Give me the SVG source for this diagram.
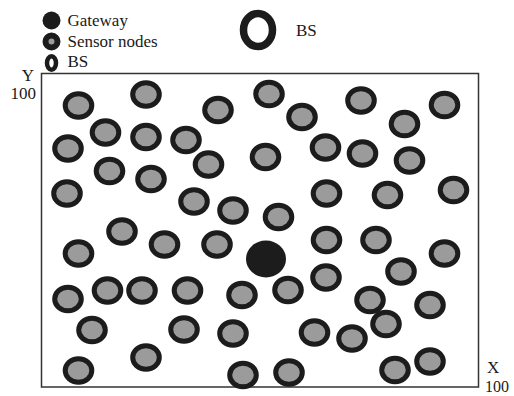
<svg xmlns="http://www.w3.org/2000/svg" width="514" height="396" viewBox="0 0 514 396">
<style>
.s{fill:#9b9b9b;stroke:#1c1c1c;stroke-width:5}
.t{font-family:"Liberation Serif","Times New Roman",serif;font-size:17px;fill:#1a1a1a}
.g{fill:#1c1c1c}
</style>
<defs>
<ellipse id="n" class="s" rx="13.3" ry="11.8"/>
</defs>
<rect width="514" height="396" fill="#fff"/>
<g id="legend">
<circle cx="51.5" cy="20.5" r="9" class="g"/>
<text x="67.5" y="25.5" class="t">Gateway</text>
<circle cx="51.5" cy="41.5" r="6" fill="#9b9b9b" stroke="#1c1c1c" stroke-width="6"/>
<text x="67.5" y="46.5" class="t">Sensor nodes</text>
<ellipse cx="51.5" cy="63" rx="4.5" ry="6.8" fill="#fff" stroke="#1c1c1c" stroke-width="4.5"/>
<text x="67.5" y="66.5" class="t">BS</text>
</g>
<g id="bs">
<ellipse cx="258" cy="30" rx="14.5" ry="16.5" fill="#fff" stroke="#1c1c1c" stroke-width="7.5"/>
<text x="296" y="36" class="t">BS</text>
</g>
<g id="field">
<rect x="41.5" y="73.5" width="437" height="313.5" fill="none" stroke="#333" stroke-width="1.5"/>
<text x="21.7" y="80.5" class="t">Y</text>
<text x="36" y="98.5" class="t" text-anchor="end">100</text>
<text x="487" y="373" class="t">X</text>
<text x="485" y="392" class="t" font-size="16px" style="font-size:16px">100</text>
</g>
<g id="connectors"/>
<g id="gateway"><ellipse cx="266" cy="259" rx="20" ry="18.5" class="g"/></g>
<g id="sensors">
<g id="s1"><use href="#n" x="78.5" y="105.5"/></g>
<g id="s2"><use href="#n" x="146" y="94.5"/></g>
<g id="s3"><use href="#n" x="218" y="110"/></g>
<g id="s4"><use href="#n" x="269" y="94"/></g>
<g id="s5"><use href="#n" x="302" y="117"/></g>
<g id="s6"><use href="#n" x="361" y="100.5"/></g>
<g id="s7"><use href="#n" x="404.5" y="124"/></g>
<g id="s8"><use href="#n" x="444.5" y="105"/></g>
<g id="s9"><use href="#n" x="105.5" y="132.5"/></g>
<g id="s10"><use href="#n" x="146" y="137"/></g>
<g id="s11"><use href="#n" x="186" y="140"/></g>
<g id="s12"><use href="#n" x="68" y="148.5"/></g>
<g id="s13"><use href="#n" x="208.5" y="164.5"/></g>
<g id="s14"><use href="#n" x="265.5" y="157"/></g>
<g id="s15"><use href="#n" x="325.5" y="147.5"/></g>
<g id="s16"><use href="#n" x="362.5" y="153.5"/></g>
<g id="s17"><use href="#n" x="409.5" y="160.5"/></g>
<g id="s18"><use href="#n" x="109.5" y="171"/></g>
<g id="s19"><use href="#n" x="151" y="179"/></g>
<g id="s20"><use href="#n" x="67" y="193.5"/></g>
<g id="s21"><use href="#n" x="194" y="201.5"/></g>
<g id="s22"><use href="#n" x="233" y="210.5"/></g>
<g id="s23"><use href="#n" x="278.5" y="217"/></g>
<g id="s24"><use href="#n" x="326.5" y="193.5"/></g>
<g id="s25"><use href="#n" x="387.5" y="195"/></g>
<g id="s26"><use href="#n" x="453.5" y="190"/></g>
<g id="s27"><use href="#n" x="122" y="231.5"/></g>
<g id="s28"><use href="#n" x="78.5" y="253.5"/></g>
<g id="s29"><use href="#n" x="164.5" y="244.5"/></g>
<g id="s30"><use href="#n" x="217" y="244.5"/></g>
<g id="s31"><use href="#n" x="326.5" y="240"/></g>
<g id="s32"><use href="#n" x="376" y="240"/></g>
<g id="s33"><use href="#n" x="444.5" y="253.5"/></g>
<g id="s34"><use href="#n" x="401" y="271.5"/></g>
<g id="s35"><use href="#n" x="326" y="277.5"/></g>
<g id="s36"><use href="#n" x="288" y="290"/></g>
<g id="s37"><use href="#n" x="242" y="295"/></g>
<g id="s38"><use href="#n" x="187.5" y="290.5"/></g>
<g id="s39"><use href="#n" x="142" y="290.5"/></g>
<g id="s40"><use href="#n" x="107.5" y="290.5"/></g>
<g id="s41"><use href="#n" x="68" y="299"/></g>
<g id="s42"><use href="#n" x="370" y="300"/></g>
<g id="s43"><use href="#n" x="430" y="305"/></g>
<g id="s44"><use href="#n" x="92" y="330"/></g>
<g id="s45"><use href="#n" x="184" y="329.5"/></g>
<g id="s46"><use href="#n" x="233" y="333.5"/></g>
<g id="s47"><use href="#n" x="314.5" y="332.5"/></g>
<g id="s48"><use href="#n" x="352" y="338.5"/></g>
<g id="s49"><use href="#n" x="386" y="324"/></g>
<g id="s50"><use href="#n" x="146" y="357.5"/></g>
<g id="s51"><use href="#n" x="78.5" y="370.5"/></g>
<g id="s52"><use href="#n" x="243" y="375"/></g>
<g id="s53"><use href="#n" x="289" y="372.5"/></g>
<g id="s54"><use href="#n" x="395" y="370"/></g>
<g id="s55"><use href="#n" x="430" y="361.5"/></g>
</g>
</svg>
